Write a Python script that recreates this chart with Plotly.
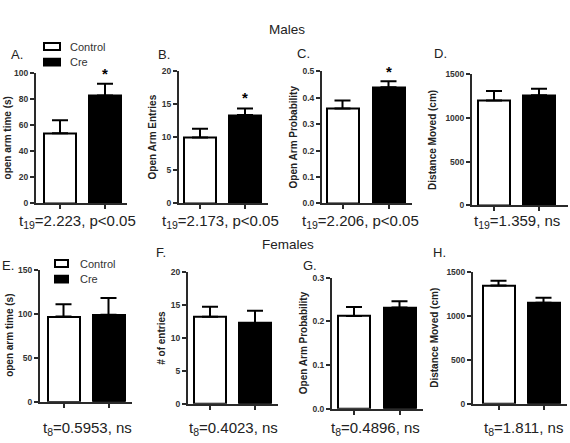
import plotly.graph_objects as go

W, H = 570, 443

# ---------------- data ----------------
groups = ["Control", "Cre"]
panel_letters = ["A.", "B.", "C.", "D.", "E.", "F.", "G.", "H."]
y_titles = ["open arm time (s)", "Open Arm Entries", "Open Arm Probability", "Distance Moved (cm)",
            "open arm time (s)", "# of entries", "Open Arm Probability", "Distance Moved (cm)"]
control_means = [54, 10.0, 0.36, 1200, 97, 13.2, 0.212, 1345]
control_sem = [10, 1.3, 0.03, 110, 14, 1.5, 0.021, 55]
cre_means = [83, 13.4, 0.44, 1260, 99, 12.2, 0.232, 1150]
cre_sem = [9, 1.0, 0.023, 75, 19, 1.9, 0.014, 55]
y_max = [100, 20, 0.5, 1500, 150, 20, 0.3, 1500]
y_dtick = [20, 5, 0.1, 500, 50, 5, 0.1, 500]
y_fmt = ["", "", ".1f", "", "", "", ".1f", ""]
stats = ["t<sub>19</sub>=2.223, p<0.05", "t<sub>19</sub>=2.173, p<0.05",
         "t<sub>19</sub>=2.206, p<0.05", "t<sub>19</sub>=1.359, ns",
         "t<sub>8</sub>=0.5953, ns", "t<sub>8</sub>=0.4023, ns",
         "t<sub>8</sub>=0.4896, ns", "t<sub>8</sub>=1.811, ns"]
significant = [True, True, True, False, False, False, False, False]
star_level = [100, 16, 0.5, None, None, None, None, None]
row_titles = ["Males", "Females"]

# ---------------- layout geometry (pixels) ----------------
# axis left, axis right, bar centre 0, bar centre 1, top, bottom
geom = [
    (36, 127, 60, 105, 70, 203),
    (179, 268, 200, 245, 68, 203),
    (322, 412, 342.5, 388.5, 68, 203),
    (472, 568, 494, 539, 71, 205),
    (40, 132, 63.5, 108.5, 271, 406),
    (188, 278, 210, 255, 273, 408),
    (332, 423, 354, 399.5, 279, 413),
    (473, 567, 498.5, 543.5, 273, 408),
]
bar_px = 32
ytitle_x = [7, 152, 293, 433, 10, 162, 303, 435]
letter_pos = [(9, 51), (156, 51), (295, 50), (432, 50), (0, 267), (154, 253), (301, 267), (431, 253)]
stat_pos = [(77, 221), (220, 221), (360, 221), (517, 221),
            (87, 433), (233, 433), (375, 433), (523, 433)]


def px(x):
    return x / W


def py(y):
    return 1 - y / H


FONT = "Liberation Sans, Arial, sans-serif"
TXT = "#222"
AX = "#2a2a2a"

fig = go.Figure()
annotations = []
shapes = []

for i in range(8):
    left, right, c0, c1, top, bot = geom[i]
    s = c1 - c0
    xr = [(left - c0) / s, (right - c0) / s]
    n = "" if i == 0 else str(i + 1)
    xa, ya = "x" + n, "y" + n
    fig.add_trace(go.Bar(
        x=[0, 1], y=[control_means[i], cre_means[i]],
        width=bar_px / s,
        marker=dict(color=["white", "black"], line=dict(color="black", width=2)),
        error_y=dict(type="data", symmetric=False,
                     array=[control_sem[i], cre_sem[i]], arrayminus=[0, 0],
                     color="black", thickness=2, width=8),
        xaxis=xa, yaxis=ya, showlegend=False, hoverinfo="skip",
    ))
    fig.layout["xaxis" + n] = dict(
        domain=[px(left), px(right)], range=xr, anchor=ya,
        showgrid=False, zeroline=False, showline=True, linecolor=AX, linewidth=2,
        tickvals=[0, 1], ticktext=["", ""], ticks="outside", ticklen=4, tickwidth=1.5,
        tickcolor=AX, fixedrange=True,
    )
    fig.layout["yaxis" + n] = dict(
        domain=[py(bot), py(top)], range=[0, y_max[i]], anchor=xa,
        showgrid=False, zeroline=False, showline=True, linecolor=AX, linewidth=2,
        dtick=y_dtick[i], tick0=0, tickformat=y_fmt[i],
        ticks="outside", ticklen=4, tickwidth=1.5, tickcolor=AX,
        tickfont=dict(family=FONT, size=8.5, color="#333", weight="bold"), fixedrange=True,
    )
    # y title
    annotations.append(dict(
        x=px(ytitle_x[i]), y=py((top + bot) / 2), xref="paper", yref="paper",
        text=y_titles[i], textangle=-90, showarrow=False,
        font=dict(family=FONT, size=10, color=TXT, weight="bold"),
        xanchor="center", yanchor="middle",
    ))
    # panel letter
    lx, ly = letter_pos[i]
    annotations.append(dict(
        x=px(lx), y=py(ly), xref="paper", yref="paper", text=panel_letters[i],
        showarrow=False, font=dict(family=FONT, size=13, color=TXT),
        xanchor="left", yanchor="middle",
    ))
    # stats
    sx, sy = stat_pos[i]
    annotations.append(dict(
        x=px(sx), y=py(sy), xref="paper", yref="paper", text=stats[i],
        showarrow=False, font=dict(family=FONT, size=15, color=TXT),
        xanchor="center", yanchor="middle",
    ))
    if significant[i]:
        annotations.append(dict(
            x=1, y=star_level[i], xref=xa, yref=ya, text="<b>*</b>",
            showarrow=False, font=dict(family=FONT, size=15, color="black"),
            xanchor="center", yanchor="middle",
        ))

# row titles
annotations.append(dict(x=px(287), y=py(15), xref="paper", yref="paper", text=row_titles[0],
                        showarrow=False, font=dict(family=FONT, size=13.5, color=TXT)))
annotations.append(dict(x=px(288), y=py(245), xref="paper", yref="paper", text=row_titles[1],
                        showarrow=False, font=dict(family=FONT, size=13.5, color=TXT)))

# legends (panel A and E)
legend_geo = [(44, 60, 39, 46, 55, 62, 68), (55, 68, 261, 268, 277, 284, 78)]
for (bx0, bx1, y0a, y1a, y0b, y1b, tx) in legend_geo:
    shapes.append(dict(type="rect", xref="paper", yref="paper", x0=px(bx0), x1=px(bx1),
                       y0=py(y1a), y1=py(y0a), fillcolor="white", line=dict(color="black", width=2)))
    shapes.append(dict(type="rect", xref="paper", yref="paper", x0=px(bx0), x1=px(bx1),
                       y0=py(y1b), y1=py(y0b), fillcolor="black", line=dict(color="black", width=2)))
    for g, (ya0, ya1) in zip(groups, [(y0a, y1a), (y0b, y1b)]):
        annotations.append(dict(x=px(tx), y=py((ya0 + ya1) / 2), xref="paper", yref="paper",
                                text=g, showarrow=False, xanchor="left", yanchor="middle",
                                font=dict(family=FONT, size=11, color="#333")))

fig.update_layout(
    width=W, height=H, margin=dict(l=0, r=0, t=0, b=0),
    paper_bgcolor="white", plot_bgcolor="white",
    annotations=annotations, shapes=shapes, showlegend=False, bargap=0,
)

fig.write_html("out.html")
